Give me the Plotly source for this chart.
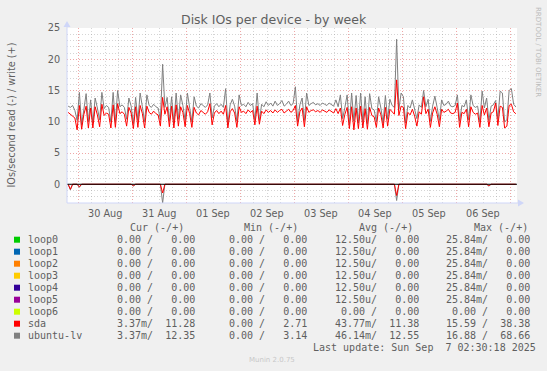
import pandas as pd
import plotly.graph_objects as go

title = "Disk IOs per device - by week"
y_title = "IOs/second read (-) / write (+)"

# hourly samples, last one = last update (07 Sep 02:30)
times = pd.date_range("2025-08-29 19:30", periods=200, freq="h")

lv_write = [
    12.5, 12.3, 12.6, 11.8, 10.2, 14.7, 9.5, 12.4, 14.5, 10.0, 13.5, 9.8, 13.8, 12.2, 10.3, 14.7, 12.1, 12.6, 12.3, 10.0,
    14.7, 9.9, 15.0, 12.4, 12.7, 12.3, 10.4, 13.8, 12.5, 9.7, 13.9, 10.2, 14.6, 12.4, 10.0, 14.3, 12.6, 12.3, 12.8, 12.4,
    12.2, 10.3, 19.2, 12.3, 13.9, 10.1, 14.0, 9.8, 14.6, 10.4, 14.3, 12.6, 10.2, 14.6, 12.4, 10.0, 14.0, 12.5, 12.2, 12.9,
    12.6, 12.3, 12.7, 14.6, 10.6, 12.5, 12.9, 12.4, 12.8, 12.3, 15.3, 9.6, 12.7, 13.6, 12.5, 10.1, 14.3, 12.6, 12.8, 12.4,
    13.1, 12.6, 12.9, 10.3, 14.6, 10.2, 12.8, 12.4, 13.2, 12.6, 13.0, 12.5, 13.3, 12.6, 12.9, 13.4, 12.5, 12.8, 13.3, 12.6,
    12.9, 15.6, 10.0, 12.7, 13.8, 10.2, 14.6, 12.6, 12.9, 13.1, 12.7, 12.9, 12.6, 13.0, 12.8, 12.6, 13.0, 12.7, 12.5, 13.5,
    12.4, 14.3, 10.5, 12.3, 14.3, 9.6, 14.6, 10.1, 14.2, 9.8, 14.6, 10.0, 14.0, 9.7, 14.5, 12.1, 11.9, 10.0, 14.0, 12.2,
    9.8, 14.2, 10.4, 13.6, 12.6, 12.3, 23.2, 12.0, 14.6, 14.0, 9.8, 12.6, 12.2, 13.5, 12.0, 10.5, 12.7, 12.3, 15.0, 12.4,
    13.6, 10.1, 12.5, 14.1, 12.3, 10.2, 13.5, 12.6, 12.8, 13.3, 12.5, 12.4, 12.6, 14.3, 10.1, 12.6, 12.4, 13.5, 10.3, 14.3,
    12.6, 12.3, 12.5, 10.0, 14.9, 12.2, 13.8, 10.2, 12.5, 12.7, 13.4, 10.5, 14.9, 14.6, 10.0, 10.3, 15.0, 15.3, 12.8, 12.35,
]

sda_write = [
    11.5, 11.2, 11.0, 10.6, 8.7, 12.6, 8.8, 11.2, 12.5, 9.0, 12.2, 9.0, 12.4, 11.1, 9.2, 12.8, 11.0, 11.4, 11.2, 9.0,
    12.7, 9.1, 12.9, 11.3, 11.6, 11.2, 9.3, 12.3, 11.4, 8.9, 12.4, 9.1, 12.6, 11.3, 9.0, 12.5, 11.5, 11.2, 11.7, 11.3,
    11.1, 9.3, 13.9, 11.2, 12.4, 9.2, 12.5, 9.0, 12.7, 9.3, 12.4, 11.5, 9.2, 12.6, 11.3, 9.1, 12.3, 11.4, 11.1, 11.8,
    11.5, 11.2, 11.6, 12.9, 9.5, 11.4, 11.8, 11.3, 11.7, 11.2, 12.6, 9.0, 11.6, 12.1, 11.4, 9.1, 12.4, 11.5, 11.7, 11.3,
    11.9, 11.5, 11.8, 9.5, 12.5, 9.6, 11.7, 11.3, 11.9, 11.5, 11.8, 11.4, 11.9, 11.5, 11.8, 12.0, 11.4, 11.7, 12.0, 11.5,
    11.8, 12.6, 9.3, 11.6, 12.2, 9.2, 12.4, 11.5, 11.8, 11.9, 11.6, 11.8, 11.5, 11.9, 11.7, 11.5, 11.9, 11.6, 11.4, 12.1,
    11.3, 12.2, 9.4, 11.2, 12.3, 8.9, 12.4, 8.7, 12.2, 8.9, 12.5, 9.0, 12.1, 8.8, 12.3, 11.0, 10.8, 9.1, 12.2, 11.1,
    9.0, 12.3, 9.3, 12.0, 11.5, 11.2, 16.7, 11.0, 12.5, 12.3, 8.9, 11.5, 11.1, 12.0, 10.9, 9.3, 11.6, 11.2, 14.0, 11.3,
    12.0, 9.1, 11.4, 12.4, 11.2, 9.2, 12.0, 11.5, 11.7, 12.0, 11.4, 11.3, 11.5, 13.0, 9.1, 11.5, 11.3, 12.0, 9.2, 12.4,
    11.5, 11.2, 11.4, 9.1, 12.6, 11.1, 12.2, 9.2, 11.4, 11.6, 13.0, 9.4, 12.5, 12.3, 9.0, 9.3, 12.6, 12.8, 11.6, 11.28,
]

lv_read = [
    0, 0.9, 0, 0, 0, 0.5, 0, 0, 0, 0, 0, 0, 0, 0, 0, 0, 0, 0, 0, 0,
    0, 0, 0, 0, 0, 0, 0, 0, 0, 0.3, 0, 0, 0, 0, 0, 0, 0, 0, 0, 0,
    0, 0, 3.0, 0, 0, 0, 0, 0, 0, 0, 0, 0, 0, 0, 0, 0, 0, 0, 0, 0,
    0, 0, 0, 0, 0, 0, 0, 0, 0, 0, 0, 0, 0, 0, 0, 0, 0, 0, 0, 0,
    0, 0, 0, 0, 0, 0, 0, 0, 0, 0, 0, 0, 0, 0, 0, 0, 0, 0, 0, 0,
    0, 0, 0, 0, 0, 0, 0, 0, 0, 0, 0, 0, 0, 0, 0, 0, 0, 0, 0, 0,
    0, 0, 0, 0, 0, 0, 0, 0, 0, 0, 0, 0, 0, 0, 0, 0, 0, 0, 0, 0,
    0, 0, 0, 0, 0, 0, 2.6, 0, 0, 0, 0, 0, 0, 0, 0, 0, 0, 0, 0, 0,
    0, 0, 0, 0, 0, 0, 0, 0, 0, 0, 0, 0, 0, 0, 0, 0, 0, 0, 0, 0,
    0, 0, 0, 0, 0, 0, 0, 0.3, 0, 0, 0, 0, 0, 0, 0, 0, 0, 0, 0, 0.00337,
]

sda_read = [
    0, 0.8, 0, 0, 0, 0.4, 0, 0, 0, 0, 0, 0, 0, 0, 0, 0, 0, 0, 0, 0,
    0, 0, 0, 0, 0, 0, 0, 0, 0, 0.2, 0, 0, 0, 0, 0, 0, 0, 0, 0, 0,
    0, 0, 1.4, 0, 0, 0, 0, 0, 0, 0, 0, 0, 0, 0, 0, 0, 0, 0, 0, 0,
    0, 0, 0, 0, 0, 0, 0, 0, 0, 0, 0, 0, 0, 0, 0, 0, 0, 0, 0, 0,
    0, 0, 0, 0, 0, 0, 0, 0, 0, 0, 0, 0, 0, 0, 0, 0, 0, 0, 0, 0,
    0, 0, 0, 0, 0, 0, 0, 0, 0, 0, 0, 0, 0, 0, 0, 0, 0, 0, 0, 0,
    0, 0, 0, 0, 0, 0, 0, 0, 0, 0, 0, 0, 0, 0, 0, 0, 0, 0, 0, 0,
    0, 0, 0, 0, 0, 0, 1.8, 0, 0, 0, 0, 0, 0, 0, 0, 0, 0, 0, 0, 0,
    0, 0, 0, 0, 0, 0, 0, 0, 0, 0, 0, 0, 0, 0, 0, 0, 0, 0, 0, 0,
    0, 0, 0, 0, 0, 0, 0, 0.2, 0, 0, 0, 0, 0, 0, 0, 0, 0, 0, 0, 0.00337,
]

day_labels = ["30 Aug", "31 Aug", "01 Sep", "02 Sep", "03 Sep", "04 Sep", "05 Sep", "06 Sep"]
day_label_times = pd.date_range("2025-08-30 12:00", periods=8, freq="D")

devices = ["loop0", "loop1", "loop2", "loop3", "loop4", "loop5", "loop6", "sda", "ubuntu-lv"]
dev_colors = ["#00CC00", "#0066B3", "#FF8000", "#FFCC00", "#330099", "#990099", "#CCFF00", "#FF0000", "#808080"]
cur_read = ["0.00 ", "0.00 ", "0.00 ", "0.00 ", "0.00 ", "0.00 ", "0.00 ", "3.37m", "3.37m"]
cur_write = ["0.00", "0.00", "0.00", "0.00", "0.00", "0.00", "0.00", "11.28", "12.35"]
min_read = ["0.00 ", "0.00 ", "0.00 ", "0.00 ", "0.00 ", "0.00 ", "0.00 ", "0.00 ", "0.00 "]
min_write = ["0.00", "0.00", "0.00", "0.00", "0.00", "0.00", "0.00", "2.71", "3.14"]
avg_read = ["12.50u", "12.50u", "12.50u", "12.50u", "12.50u", "12.50u", "0.00 ", "43.77m", "46.14m"]
avg_write = ["0.00", "0.00", "0.00", "0.00", "0.00", "0.00", "0.00", "11.38", "12.55"]
max_read = ["25.84m", "25.84m", "25.84m", "25.84m", "25.84m", "25.84m", "0.00 ", "15.59 ", "16.88 "]
max_write = ["0.00", "0.00", "0.00", "0.00", "0.00", "0.00", "0.00", "38.38", "68.66"]
headers = ["Cur (-/+)", "Min (-/+)", "Avg (-/+)", "Max (-/+)"]
last_update = "Last update: Sun Sep  7 02:30:18 2025"

# ---- layout geometry (pixels) ----
W, H = 547, 371
PL, PR, PT, PB = 67, 517, 28, 203
TXT = "#5f5f5f"
MONO = "DejaVu Sans Mono"
SANS = "DejaVu Sans"


def px(x):
    return (x - PL) / (PR - PL)


def py(y):
    return (PB - y) / (PB - PT)


def nb(s):
    return s.replace(" ", "\u00a0")


fig = go.Figure()
series = [
    ("sda", sda_write, sda_read, "#FF0000"),
    ("ubuntu-lv", lv_write, lv_read, "#808080"),
]
for name, wr, rd, col in series[::-1]:
    fig.add_trace(go.Scatter(x=times, y=[-v for v in rd], mode="lines",
                             line=dict(color=col, width=1), showlegend=False, name=name + " read"))
for name, wr, rd, col in series[::-1]:
    fig.add_trace(go.Scatter(x=times, y=wr, mode="lines",
                             line=dict(color=col, width=1), showlegend=False, name=name))

ann = []
ann.append(dict(text=title, x=px(W / 2), y=py(19), xref="paper", yref="paper", showarrow=False,
                font=dict(family=SANS, size=12.5, color=TXT), xanchor="center", yanchor="middle"))
ann.append(dict(text=y_title, x=px(11), y=py(115.5), xref="paper", yref="paper", showarrow=False,
                textangle=-90, font=dict(family=SANS, size=9.7, color=TXT), xanchor="center", yanchor="middle"))
ann.append(dict(text="RRDTOOL / TOBI OETIKER", x=px(538), y=py(52), xref="paper", yref="paper", showarrow=False,
                textangle=90, font=dict(family=SANS, size=7, color="#BBBBBB"), xanchor="center", yanchor="middle"))
ann.append(dict(text="Munin 2.0.75", x=px(272), y=py(360), xref="paper", yref="paper", showarrow=False,
                font=dict(family=SANS, size=7, color="#C8C8C8"), xanchor="center", yanchor="middle"))
for t, lab in zip(day_label_times, day_labels):
    ann.append(dict(text=lab, x=t, y=py(213), xref="x", yref="paper", showarrow=False,
                    font=dict(family=SANS, size=9.7, color=TXT), xanchor="center", yanchor="middle"))
for hx, h in zip([129.3, 243.3, 358.3, 472.7], headers):
    ann.append(dict(text=nb(h), x=px(hx), y=py(227.3), xref="paper", yref="paper", showarrow=False,
                    font=dict(family=MONO, size=10, color=TXT), xanchor="left", yanchor="middle", borderpad=0))
shapes = []
pair_x = [110, 222, 334, 445]
for k, dev in enumerate(devices):
    yy = 239.7 + 12 * k
    shapes.append(dict(type="rect", xref="paper", yref="paper", x0=px(14), x1=px(20), y0=py(yy + 3), y1=py(yy - 3),
                       fillcolor=dev_colors[k], line=dict(width=0)))
    ann.append(dict(text=nb(dev), x=px(26.7), y=py(yy), xref="paper", yref="paper", showarrow=False,
                    font=dict(family=MONO, size=10, color=TXT), xanchor="left", yanchor="middle", borderpad=0))
    pairs = [(cur_read[k], cur_write[k]), (min_read[k], min_write[k]),
             (avg_read[k], avg_write[k]), (max_read[k], max_write[k])]
    for (neg, pos), xx in zip(pairs, pair_x):
        s = f"{neg:>6}/ {pos:>6}"
        ann.append(dict(text=nb(s), x=px(xx), y=py(yy), xref="paper", yref="paper", showarrow=False,
                        font=dict(family=MONO, size=10, color=TXT), xanchor="left", yanchor="middle", borderpad=0))
ann.append(dict(text=nb(last_update), x=px(311.5), y=py(347.3), xref="paper", yref="paper", showarrow=False,
                font=dict(family=MONO, size=10, color=TXT), xanchor="left", yanchor="middle", borderpad=0))

AX = "#CFD6F8"
shapes.append(dict(type="line", xref="paper", yref="y", x0=0, x1=1, y0=0, y1=0,
                   line=dict(color="#000000", width=1), layer="above"))
shapes.append(dict(type="path", xref="paper", yref="paper",
                   path=f"M {px(63.5)} {py(27)} L {px(70.5)} {py(27)} L {px(67)} {py(21)} Z",
                   fillcolor=AX, line=dict(width=0)))
shapes.append(dict(type="path", xref="paper", yref="paper",
                   path=f"M {px(518)} {py(199.5)} L {px(518)} {py(206.5)} L {px(524)} {py(203)} Z",
                   fillcolor=AX, line=dict(width=0)))
shapes.append(dict(type="line", xref="paper", yref="paper", x0=px(67), x1=px(67), y0=py(203), y1=py(25),
                   line=dict(color=AX, width=1)))
shapes.append(dict(type="line", xref="paper", yref="paper", x0=px(67), x1=px(519), y0=py(203), y1=py(203),
                   line=dict(color=AX, width=1)))

MINOR = "rgba(150,150,150,0.4)"
MAJOR = "rgba(224,80,80,0.5)"
fig.update_layout(
    width=W, height=H,
    margin=dict(l=PL, r=W - PR, t=PT, b=H - PB),
    paper_bgcolor="#F0F0F0", plot_bgcolor="#FFFFFF",
    showlegend=False,
    annotations=ann, shapes=shapes,
    xaxis=dict(type="date", range=["2025-08-29 19:00", "2025-09-07 03:00"],
               showgrid=True, gridcolor=MAJOR, griddash="1px,2px", gridwidth=1,
               dtick=86400000, tick0="2025-08-30 00:00", showticklabels=False, ticks="",
               zeroline=False, showline=False,
               minor=dict(dtick=21600000, tick0="2025-08-30 00:00", showgrid=True,
                          gridcolor=MINOR, griddash="1px,2px", gridwidth=1, ticks="")),
    yaxis=dict(range=[-3, 25], dtick=5, tick0=0, showgrid=True, gridcolor=MAJOR, griddash="1px,2px",
               gridwidth=1, zeroline=False, showline=False, ticks="outside", ticklen=4,
               tickcolor="rgba(0,0,0,0)", tickfont=dict(family=SANS, size=9.7, color=TXT),
               minor=dict(dtick=1, tick0=0, showgrid=True, gridcolor=MINOR, griddash="1px,2px",
                          gridwidth=1, ticks="")),
)

fig.write_html("out.html", config={"displayModeBar": False},
               post_script="document.body.style.margin='0';document.body.style.overflow='hidden';")
